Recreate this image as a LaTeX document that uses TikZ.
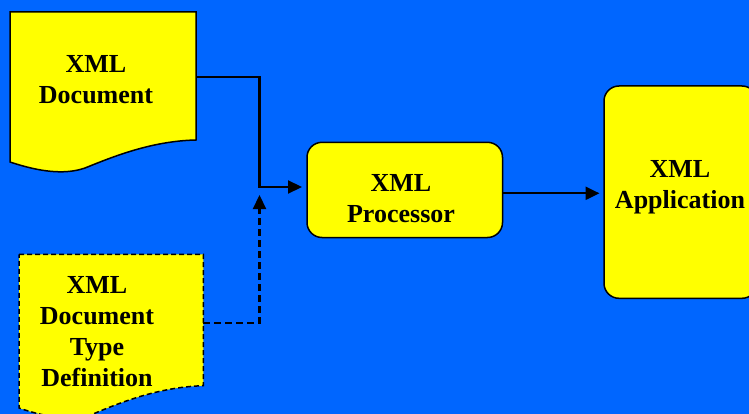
\documentclass[tikz,border=0pt]{standalone}
\usepackage{fontspec}
\setmainfont{Liberation Serif}
\usetikzlibrary{arrows.meta}
\definecolor{bgblue}{HTML}{0066FF}
\definecolor{boxyellow}{HTML}{FFFF00}
\tikzset{
  shapebox/.style={fill=boxyellow, draw=black, line width=1.5pt},
  label/.style={font=\fontsize{26}{31}\selectfont\bfseries, align=center, text=black, inner sep=0pt},
  conn/.style={draw=black, line width=2.2pt, -{Triangle[length=14pt,width=13pt]}},
  rbox/.style={shapebox, rounded corners=15pt}
}
\begin{document}
\begin{tikzpicture}[x=1pt,y=-1pt]
\useasboundingbox (0,0) rectangle (749,414);
\clip (0,0) rectangle (749,414);
\fill[bgblue] (0,0) rectangle (749,414);
% XML Document shape
\path[shapebox] (10,12) -- (196,12) -- (196,140)
  .. controls (150,141) and (110,158) .. (85,168)
  .. controls (65,175) and (40,172) .. (10,162) -- cycle;
\node[label] (doc) at (96,80) {XML\\Document};
% DTD shape
\path[shapebox, dashed, dash pattern=on 5pt off 3pt] (19,254.3) -- (203.3,254.3) -- (203.3,385.7)
  .. controls (157,387) and (117,404) .. (93,414)
  .. controls (73,421) and (48,418) .. (19,408) -- cycle;
\node[label] (dtd) at (97,332) {XML\\Document\\Type\\Definition};
% Processor
\path[rbox] (307,142.3) rectangle (502.5,237.5);
\node[label] (proc) at (401,199) {XML\\Processor};
% Application
\path[rbox] (604,86) rectangle (757,298.3);
\node[label] (app) at (680,187) {XML\\Application};
% connectors
\coordinate (docout) at (196,77);
\coordinate (dtdout) at (203.3,322.7);
\coordinate (join) at (259.5,187);
\coordinate (procin) at (302,187);
\coordinate (joinbelow) at (259.5,195);
\coordinate (procout) at (502.5,193.3);
\coordinate (appin) at (599.5,193.3);
\draw[conn] (docout) -| (join) -- (procin);
\draw[conn, dashed, dash pattern=on 7pt off 4pt] (dtdout) -| (joinbelow);
\draw[conn] (procout) -- (appin);
\end{tikzpicture}
\end{document}
